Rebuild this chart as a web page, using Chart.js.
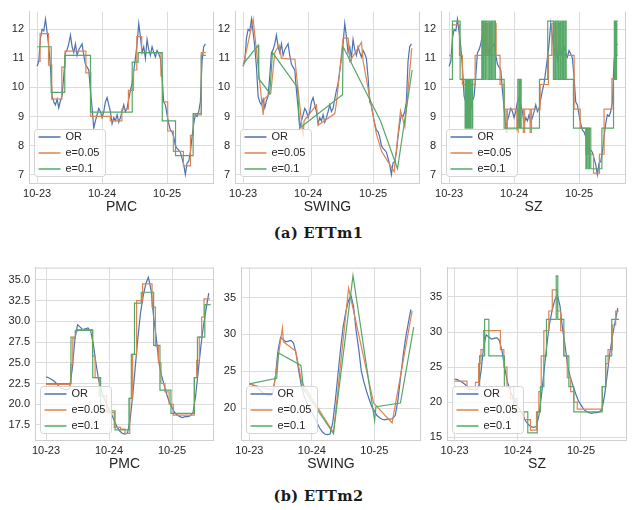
<!DOCTYPE html>
<html>
<head>
<meta charset="utf-8">
<script src="https://cdn.jsdelivr.net/npm/chart.js@4.4.1/dist/chart.umd.min.js"></script>
<style>
body { margin: 0; background: #fff; width: 637px; height: 510px; position: relative; overflow: hidden; }
canvas { position: absolute; }
.cap { position: absolute; left: 0; width: 637px; text-align: center; font: bold 14.5px "DejaVu Serif", serif; letter-spacing: 0.4px; line-height: 18px; color: #1a1a1a; }
</style>
</head>
<body>
<canvas id="m1pmc"></canvas>
<canvas id="m1swing"></canvas>
<canvas id="m1sz"></canvas>
<canvas id="m2pmc"></canvas>
<canvas id="m2swing"></canvas>
<canvas id="m2sz"></canvas>
<div class="cap" style="top:224px">(a) ETTm1</div>
<div class="cap" style="top:487px">(b) ETTm2</div>
<script>
// axis labels (x in hours from 10-23 00:00)
const dayTicks = [0, 24, 48];
const dayLabels = ['10-23', '10-24', '10-25'];
const seriesNames = ['OR', 'e=0.05', 'e=0.1'];
const colors = ['#4c72b0', '#dd8452', '#55a868'];

// ETTm1 original series, one value every m1Step hours
const m1Step = 0.615;
const m1OR = [10.73,10.9,11.7,12.0,11.95,12.35,11.9,11.4,10.7,9.7,
  9.5,9.4,9.6,9.3,9.55,9.7,10.4,11.2,11.3,11.5,
  11.8,11.4,11.2,11.5,11.1,11.3,11.4,11.5,11.1,10.8,
  10.7,10.6,9.9,9.3,8.6,8.85,9.06,9.28,9.17,8.96,
  9.17,9.5,9.65,9.4,9.17,8.75,8.96,8.85,9.06,8.8,
  8.96,9.17,9.4,9.17,9.28,9.6,9.9,10.14,10.57,11.0,
  11.5,12.2,11.75,11.2,11.4,11.0,11.65,11.3,11.1,11.4,
  11.2,11.05,11.27,11.16,11.0,10.35,9.5,9.4,9.06,8.75,
  8.53,8.47,8.3,8.0,7.9,7.84,7.77,7.56,7.34,7.0,
  7.4,7.45,7.77,8.3,8.75,9.06,9.0,9.17,9.5,10.9,
  11.4,11.5];

// ETTm2 original series, hourly
const m2Step = 1;
const m2OR = [23.3,23.2,23.0,22.8,22.5,22.1,21.9,21.8,21.7,22.0,
  24.3,27.8,29.6,29.3,29.0,29.1,29.2,28.8,27.3,25.0,
  23.0,21.7,20.8,20.1,19.4,18.8,18.0,17.3,16.8,16.5,
  16.4,16.5,18.0,21.0,24.5,28.0,31.0,33.0,34.5,35.3,
  33.8,30.5,28.0,25.0,23.5,22.3,21.2,20.2,19.6,19.0,
  18.7,18.5,18.4,18.5,18.5,18.6,19.0,21.0,24.0,27.0,
  29.5,31.5,33.4];

// ETTm1 PMC (segment start hour, value)
const m1PmcT05 = [0,1.1,4.2,5.4,9.1,10.3,18.0,19.8,27.0,31.3,33.7,35.6,36.8,38.6,45.7,46.3,48.2,50.3,54.0,56.6,57.7,60.6,62.3];
const m1PmcV05 = [10.9,11.85,10.77,9.6,10.7,11.25,10.5,9.0,8.85,9.25,9.9,10.6,11.75,11.2,10.4,9.5,8.5,7.8,7.3,8.35,9.05,11.2,11.2];
const m1PmcT1 = [0,5.2,10.2,19.7,35.1,37.3,46.2,51.1,57.6,60.6,62.3];
const m1PmcV1 = [11.4,9.83,11.1,9.15,10.87,11.2,8.85,7.65,9.1,11.1,11.1];

// ETTm1 SWING (vertex hour, value)
const m1SwingT05 = [0,3.7,7.4,7.75,10.2,11.7,13.3,14.15,19.1,22.15,22.5,27.1,27.7,33.85,34.5,36.9,38.8,39.4,43.7,44.3,49.2,51.1,55.75,58.1,59.7,62.2,62.4];
const m1SwingV05 = [10.73,12.35,9.05,9.6,9.8,11.2,11.45,11.0,10.97,8.3,8.85,9.4,8.7,9.1,9.5,11.7,11.7,10.9,11.55,10.9,8.4,7.8,7.1,9.2,8.65,11.3,11.35];
const m1SwingT1 = [0,5.54,5.78,9.85,10.83,20.06,20.9,36.7,36.9,50.7,57.0,62.4];
const m1SwingV1 = [10.8,11.45,10.3,9.8,11.2,10.0,8.6,9.75,11.4,8.85,7.2,10.6];

// ETTm1 SZ (segment start hour, value)
const m1SzT05 = [0,1.23,3.8,4.9,6.5,6.9,7.75,8.1,9.6,12.7,13.05,13.9,14.3,15.4,15.75,17.0,17.35,18.8,20.3,21.0,21.5,25.0,25.5,27.4,27.9,29.9,30.4,33.6,36.7,37.9,38.5,39.1,39.75,40.7,41.2,46.15,48.4,50.5,51.1,51.6,53.3,55.5,57.2,60.1,61.3,61.7,61.9,62.3];
const m1SzV05 = [11.1,12.15,11.1,10.1,9.25,10.1,9.25,10.1,11.1,12.2,11.1,12.2,11.1,12.2,11.1,12.2,11.1,10.1,9.25,8.45,9.25,8.45,9.25,8.45,9.25,8.45,9.25,10.1,11.1,12.2,11.1,12.2,11.1,12.2,11.1,9.25,8.6,7.7,8.6,7.7,7.05,7.7,9.25,10.3,11.1,12.2,11.1,11.1];
const m1SzT1 = [0,1.23,4.06,5.9,6.3,6.65,7.1,7.5,7.9,8.4,8.7,12.06,12.4,12.8,13.3,13.7,14.3,14.8,15.1,15.6,16.1,16.6,17.1,20.3,25.35,25.85,26.2,26.6,33.35,36.4,38.5,39.0,39.4,39.9,40.4,40.9,41.35,41.85,42.3,42.8,43.2,45.9,50.5,50.8,51.3,51.8,52.3,56.4,60.7,61.0,61.4,61.8,62.3];
const m1SzV1 = [10.28,12.28,10.28,8.6,10.28,8.6,10.28,8.6,10.28,8.6,10.28,12.28,10.28,12.28,10.28,12.28,10.28,12.28,10.28,12.28,10.28,12.28,10.28,8.6,10.28,8.6,10.28,8.6,10.28,12.28,10.28,12.28,10.28,12.28,10.28,12.28,10.28,12.28,10.28,12.28,10.28,8.6,7.2,8.6,7.2,8.6,7.2,8.6,10.28,12.28,10.28,12.28,12.28];

// ETTm2 PMC
const m2PmcT05 = [0,9.4,10.2,11.2,11.9,17.7,18.7,20.3,23.1,26.0,28.4,30.1,31.9,33.0,34.5,36.8,40.4,41.7,42.8,43.8,45.3,46.9,48.5,56.5,57.4,58.4,59.3,60.2,62.5];
const m2PmcV05 = [22.4,24.8,27.9,28.8,29.0,25.8,23.2,21.0,19.0,17.2,17.0,16.5,20.7,26.0,32.5,34.5,31.7,27.0,25.0,22.5,21.5,20.0,18.7,23.2,25.3,28.1,30.5,32.7,32.7];
const m2PmcT1 = [0,9.5,11.2,17.8,20.8,26.3,31.6,32.5,33.7,36.3,41.0,43.4,47.6,56.5,57.7,60.5,62.7];
const m2PmcV1 = [22.5,28.1,28.9,23.2,19.2,16.9,20.7,26.0,32.2,33.5,27.1,21.7,18.9,23.2,28.1,32.0,32.0];

// ETTm2 SWING
const m2SwingT05 = [0,9.24,12.7,13.1,17.8,20.1,32.3,38.1,47.7,54.8,62.5];
const m2SwingV05 = [23.3,22.4,30.9,29.0,27.75,23.5,16.7,36.3,20.7,18.0,33.2];
const m2SwingT1 = [0,10.5,11.2,19.8,20.8,32.3,39.8,48.1,48.6,58.0,63.1];
const m2SwingV1 = [23.3,24.05,27.5,25.8,22.6,16.55,38.0,18.3,20.2,20.7,31.0];

// ETTm2 SZ
const m2SzT05 = [0,4.7,7.9,9.1,10.0,11.0,17.4,18.7,19.9,21.2,23.7,26.3,28.8,31.1,32.0,32.9,33.9,35.8,37.1,39.0,40.3,41.5,42.8,44.1,45.3,46.6,56.1,57.4,58.3,59.9,61.2,62.5];
const m2SzV05 = [23.0,21.8,22.8,25.5,27.5,30.2,27.5,25.0,22.2,20.5,18.6,17.5,16.0,18.6,21.5,26.6,30.2,33.0,36.0,33.0,30.2,26.6,23.5,21.5,20.0,19.0,22.2,25.5,27.5,31.0,33.0,33.0];
const m2SzT1 = [0,9.5,11.4,13.0,18.9,22.5,27.8,31.4,32.6,33.9,34.9,38.6,39.2,41.5,43.4,45.3,56.1,57.4,59.7,62.5];
const m2SzV1 = [22.2,26.6,31.8,26.6,22.2,18.6,15.6,18.6,22.2,26.6,31.8,38.0,31.8,26.6,22.2,18.6,22.2,26.6,31.8,31.8];

Chart.defaults.font.family = '"Liberation Sans", Arial, sans-serif';
Chart.defaults.color = '#262626';

const gridColor = '#dcdcdc';
const frameColor = '#cfcfcf';

function pairs(ts, vs) { return ts.map((t, i) => ({ x: t, y: vs[i] })); }
function sampled(vs, step) { return vs.map((v, i) => ({ x: i * step, y: v })); }

// draws the right/top spines and a seaborn-like legend box in the lower left
const boxLegend = {
  id: 'boxLegend',
  afterDraw(chart, args, opts) {
    const a = chart.chartArea, ctx = chart.ctx;
    ctx.save();
    ctx.strokeStyle = frameColor;
    ctx.lineWidth = 1;
    ctx.beginPath();
    ctx.moveTo(a.right - 0.5, a.bottom);
    ctx.lineTo(a.right - 0.5, a.top);
    if (opts.frameTop) { ctx.moveTo(a.left, a.top + 0.5); ctx.lineTo(a.right, a.top + 0.5); }
    ctx.stroke();

    const x0 = a.left + 5.5, y0 = a.bottom - 53.5;
    ctx.fillStyle = 'rgba(255,255,255,0.8)';
    ctx.strokeStyle = '#d4d4d4';
    ctx.beginPath();
    ctx.roundRect(x0, y0, 71, 47, 3);
    ctx.fill();
    ctx.stroke();
    ctx.font = '11px "Liberation Sans", Arial, sans-serif';
    ctx.textBaseline = 'middle';
    chart.data.datasets.forEach((ds, i) => {
      const y = y0 + 7.5 + i * 16;
      ctx.strokeStyle = ds.borderColor;
      ctx.lineWidth = 1.5;
      ctx.beginPath();
      ctx.moveTo(x0 + 4, y);
      ctx.lineTo(x0 + 26, y);
      ctx.stroke();
      ctx.fillStyle = '#262626';
      ctx.fillText(ds.label, x0 + 31, y);
    });
    ctx.restore();
  }
};

function panel(id, box, xr, yr, yStep, yDigits, title, orData, a05, a1, stepped) {
  const cv = document.getElementById(id);
  cv.width = box.yW + box.w;
  cv.height = box.h + box.xH;
  cv.style.left = (box.left - box.yW) + 'px';
  cv.style.top = box.top + 'px';
  new Chart(cv, {
    type: 'line',
    data: {
      datasets: [
        { label: seriesNames[0], data: orData, borderColor: colors[0], order: 3 },
        { label: seriesNames[1], data: a05, borderColor: colors[1], stepped: stepped, order: 2 },
        { label: seriesNames[2], data: a1, borderColor: colors[2], stepped: stepped, order: 1 }
      ]
    },
    options: {
      responsive: false,
      animation: false,
      layout: { padding: 0 },
      elements: { point: { radius: 0 }, line: { borderWidth: 1.2, tension: 0, fill: false } },
      plugins: { legend: { display: false }, tooltip: { enabled: false }, boxLegend: { frameTop: box.top > 0 } },
      scales: {
        x: {
          type: 'linear', min: xr[0], max: xr[1],
          afterBuildTicks: s => { s.ticks = dayTicks.map(v => ({ value: v })); },
          afterFit: s => { s.height = box.xH; },
          ticks: { callback: v => dayLabels[dayTicks.indexOf(v)], font: { size: 11 }, padding: 4, maxRotation: 0, autoSkip: false },
          grid: { color: gridColor, drawTicks: false },
          border: { color: frameColor },
          title: { display: true, text: title, font: { size: 14 }, padding: 0 }
        },
        y: {
          min: yr[0], max: yr[1],
          afterFit: s => { s.width = box.yW; },
          ticks: { stepSize: yStep, includeBounds: false, callback: v => v.toFixed(yDigits), font: { size: 11 }, padding: 5 },
          grid: { color: gridColor, drawTicks: false },
          border: { color: frameColor }
        }
      }
    },
    plugins: [boxLegend]
  });
}

const m1 = sampled(m1OR, m1Step);
const m2 = sampled(m2OR, m2Step);
const topY = [6.71, 12.61];
const topX = [-3.0, 65.3];

panel('m1pmc', { left: 29, top: 0, w: 185, h: 183, yW: 29, xH: 33 }, topX, topY, 1, 0, 'PMC',
  m1, pairs(m1PmcT05, m1PmcV05), pairs(m1PmcT1, m1PmcV1), true);
panel('m1swing', { left: 235, top: 0, w: 185, h: 183, yW: 29, xH: 33 }, topX, topY, 1, 0, 'SWING',
  m1, pairs(m1SwingT05, m1SwingV05), pairs(m1SwingT1, m1SwingV1), false);
panel('m1sz', { left: 441, top: 0, w: 185, h: 183, yW: 29, xH: 33 }, topX, topY, 1, 0, 'SZ',
  m1, pairs(m1SzT05, m1SzV05), pairs(m1SzT1, m1SzV1), true);

panel('m2pmc', { left: 35, top: 256, w: 179, h: 184, yW: 35, xH: 33 }, [-4.2, 64.0], [15.69, 36.47], 2.5, 1, 'PMC',
  m2, pairs(m2PmcT05, m2PmcV05), pairs(m2PmcT1, m2PmcV1), true);
panel('m2swing', { left: 241, top: 256, w: 180, h: 184, yW: 30, xH: 33 }, [-3.2, 65.9], [15.68, 39.07], 5, 0, 'SWING',
  m2, pairs(m2SwingT05, m2SwingV05), pairs(m2SwingT1, m2SwingV1), false);
panel('m2sz', { left: 447, top: 256, w: 180, h: 184, yW: 30, xH: 33 }, [-2.9, 65.5], [14.59, 39.19], 5, 0, 'SZ',
  m2, pairs(m2SzT05, m2SzV05), pairs(m2SzT1, m2SzV1), true);
</script>
</body>
</html>
